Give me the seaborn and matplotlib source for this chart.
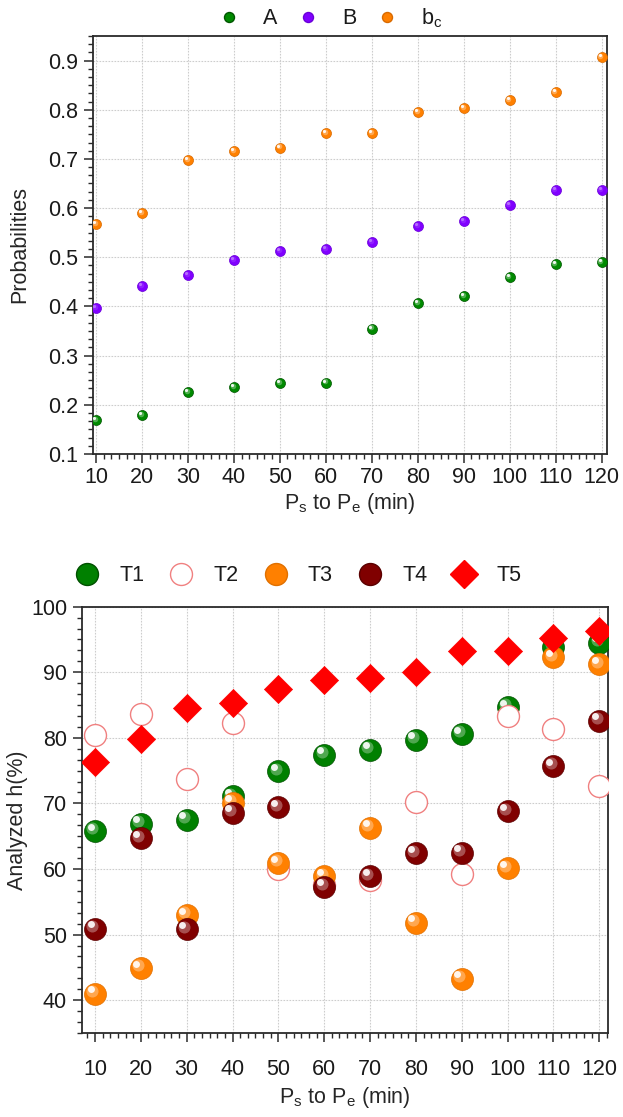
import matplotlib
matplotlib.use("Agg")
import numpy as np
import pandas as pd
import seaborn as sns
import matplotlib.pyplot as plt
from matplotlib.transforms import ScaledTranslation
from matplotlib.ticker import MultipleLocator, AutoMinorLocator, FormatStrFormatter
from matplotlib.lines import Line2D

# ---------------- data ----------------
minutes = [10, 20, 30, 40, 50, 60, 70, 80, 90, 100, 110, 120]

prob_A = [0.169, 0.179, 0.226, 0.236, 0.244, 0.245, 0.355, 0.406, 0.421, 0.460, 0.486, 0.490]
prob_B = [0.396, 0.442, 0.463, 0.495, 0.513, 0.517, 0.531, 0.564, 0.574, 0.606, 0.636, 0.636]
prob_bc = [0.568, 0.590, 0.697, 0.716, 0.723, 0.753, 0.753, 0.795, 0.804, 0.820, 0.836, 0.907]

h_T1 = [65.8, 66.9, 67.5, 71.1, 74.9, 77.4, 78.2, 79.7, 80.6, 84.7, 93.9, 94.5]
h_T2 = [80.5, 83.6, 73.7, 82.2, 60.0, 57.5, 58.4, 70.2, 59.3, 83.4, 81.3, 72.7]
h_T3 = [41.0, 44.9, 53.0, 70.1, 60.9, 58.9, 66.3, 51.8, 43.3, 60.1, 92.3, 91.2]
h_T4 = [50.9, 64.7, 50.8, 68.6, 69.4, 57.3, 58.9, 62.4, 62.5, 68.8, 75.7, 82.6]
h_T5 = [76.3, 79.8, 84.5, 85.3, 87.4, 88.8, 89.1, 90.0, 93.2, 93.3, 95.2, 96.3]

top_labels = ["A", "B", r"b$_\mathregular{c}$"]
bottom_labels = ["T1", "T2", "T3", "T4", "T5"]

# ---------------- style ----------------
sns.set_theme(style="white")
plt.rcParams["font.family"] = ["Liberation Sans", "DejaVu Sans"]
plt.rcParams["mathtext.fontset"] = "custom"
plt.rcParams["mathtext.rm"] = "Liberation Sans"
plt.rcParams["mathtext.it"] = "Liberation Sans:italic"
plt.rcParams["text.color"] = "#1a1a1a"
FS = 15.5

fig = plt.figure(figsize=(6.23, 11.17), dpi=100)
ax1 = fig.add_axes([0.1488, 0.5936, 0.8250, 0.3742])
ax2 = fig.add_axes([0.1311, 0.0752, 0.8448, 0.3817])


def sphere(ax, x, y, color, edge, s, z, hl_alpha=0.9):
    sns.scatterplot(x=x, y=y, ax=ax, color=color, s=s, edgecolor=edge,
                    linewidth=0.5, zorder=z, legend=False)
    d = np.sqrt(s) / 72.0  # diameter in inches
    off1 = ScaledTranslation(-0.12 * d, 0.12 * d, fig.dpi_scale_trans)
    off2 = ScaledTranslation(-0.2 * d, 0.2 * d, fig.dpi_scale_trans)
    ax.scatter(x, y, s=s * 0.30, color="white", alpha=0.35 * hl_alpha,
               linewidths=0, zorder=z + 0.1, transform=ax.transData + off1)
    ax.scatter(x, y, s=s * 0.10, color="white", alpha=hl_alpha,
               linewidths=0, zorder=z + 0.2, transform=ax.transData + off2)


def style_axes(ax, xpad=4):
    ax.set_axisbelow(True)
    ax.grid(True, which="major", color="#cdcdcd", linestyle=(0, (1.5, 1.2)), linewidth=0.8)
    for sp in ax.spines.values():
        sp.set_color("#2a2a2a")
        sp.set_linewidth(1.3)
    ax.xaxis.set_major_locator(MultipleLocator(10))
    ax.xaxis.set_minor_locator(AutoMinorLocator(6))
    ax.yaxis.set_minor_locator(AutoMinorLocator(6))
    ax.tick_params(which="both", direction="out", left=True, bottom=True,
                   top=False, right=False, colors="#2a2a2a", labelcolor="#1a1a1a")
    ax.tick_params(which="major", length=6.5, width=1.1, labelsize=FS, pad=4)
    ax.tick_params(axis="x", which="major", pad=xpad)
    ax.tick_params(which="minor", length=3.5, width=1.0)


# ---------------- top panel ----------------
s_top = 52
sphere(ax1, minutes, prob_A, "#008a00", "#005500", s_top, 3)
sphere(ax1, minutes, prob_B, "#8000ff", "#6a00d8", s_top, 3, hl_alpha=0.35)
sphere(ax1, minutes, prob_bc, "#ff8000", "#d86a00", s_top, 3)

ax1.set_xlim(9.3, 121.1)
ax1.set_ylim(0.1, 0.95)
ax1.yaxis.set_major_locator(MultipleLocator(0.1))
ax1.yaxis.set_major_formatter(FormatStrFormatter("%.1f"))
style_axes(ax1, xpad=3)
ax1.set_ylabel("Probabilities", fontsize=FS, labelpad=13)
ax1.set_xlabel(r"P$_\mathregular{s}$ to P$_\mathregular{e}$ (min)", fontsize=FS, labelpad=2)

top_handles = [
    Line2D([], [], ls="", marker="o", markersize=7.2, markerfacecolor=c, markeredgecolor=e)
    for c, e in [("#008a00", "#005500"), ("#8000ff", "#6a00d8"), ("#ff8000", "#d86a00")]
]
fig.legend(top_handles, top_labels, loc="center", bbox_to_anchor=(0.53, 0.984),
           ncol=3, frameon=False, fontsize=FS, handlelength=1.0,
           handletextpad=1.1, columnspacing=0.9, borderaxespad=0)

# ---------------- bottom panel ----------------
s_bot = 250
sphere(ax2, minutes, h_T1, "#008000", "#005000", s_bot, 3)
sns.scatterplot(x=minutes, y=h_T2, ax=ax2, color="white", s=s_bot,
                edgecolor="#f08080", linewidth=1.0, zorder=4, legend=False)
sphere(ax2, minutes, h_T3, "#ff8000", "#e07000", s_bot, 5)
sphere(ax2, minutes, h_T4, "#800000", "#5a0000", s_bot, 6)
sns.scatterplot(x=minutes, y=h_T5, ax=ax2, color="#ff0000", s=205, marker="D",
                edgecolor="#ff0000", linewidth=0.5, zorder=7, legend=False)

ax2.set_xlim(7.1, 121.9)
ax2.set_ylim(35, 100)
ax2.yaxis.set_major_locator(MultipleLocator(10))
style_axes(ax2, xpad=12)
ax2.set_ylabel("Analyzed h(%)", fontsize=FS, labelpad=2)
ax2.set_xlabel(r"P$_\mathregular{s}$ to P$_\mathregular{e}$ (min)", fontsize=FS, labelpad=4)

bot_handles = [
    Line2D([], [], ls="", marker="o", markersize=15.8, markerfacecolor="#008000", markeredgecolor="#005000"),
    Line2D([], [], ls="", marker="o", markersize=15.8, markerfacecolor="white", markeredgecolor="#f08080"),
    Line2D([], [], ls="", marker="o", markersize=15.8, markerfacecolor="#ff8000", markeredgecolor="#e07000"),
    Line2D([], [], ls="", marker="o", markersize=15.8, markerfacecolor="#800000", markeredgecolor="#5a0000"),
    Line2D([], [], ls="", marker="D", markersize=14.3, markerfacecolor="#ff0000", markeredgecolor="#ff0000"),
]
fig.legend(bot_handles, bottom_labels, loc="center", bbox_to_anchor=(0.478, 0.4845),
           ncol=5, frameon=False, fontsize=FS, handlelength=1.2,
           handletextpad=0.9, columnspacing=1.12, borderaxespad=0)

fig.savefig("out.png", dpi=100)
